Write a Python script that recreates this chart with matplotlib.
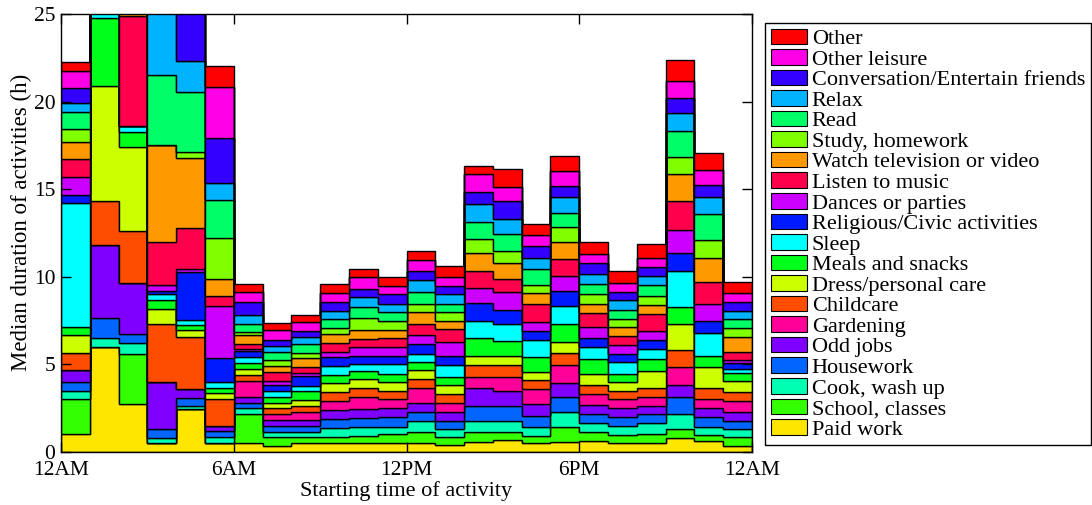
import numpy as np
import matplotlib
matplotlib.use('Agg')
import matplotlib.pyplot as plt
from matplotlib.patches import Patch

plt.rcParams['font.family'] = ['Liberation Serif', 'DejaVu Serif']

# Median duration (h) of each activity, by starting hour 0..23
paid_work = [1.03, 6.01, 2.74, 0.50, 2.45, 0.50, 0.50, 0.34, 0.50, 0.50, 0.50, 0.53,
             0.53, 0.40, 0.59, 0.68, 0.50, 0.59, 0.64, 0.50, 0.50, 0.82, 0.64, 0.34]
school = [1.98, 0.00, 2.84, 0.00, 0.00, 0.00, 1.67, 0.53, 0.34, 0.38, 0.43, 0.48,
          0.63, 0.44, 0.57, 0.47, 0.42, 0.86, 0.51, 0.47, 0.53, 0.48, 0.33, 0.50]
cook = [0.49, 0.48, 0.66, 0.32, 0.19, 0.38, 0.33, 0.29, 0.32, 0.51, 0.51, 0.43,
        0.63, 0.46, 0.63, 0.63, 0.50, 0.86, 0.51, 0.51, 0.61, 0.86, 0.47, 0.46]
housework = [0.48, 1.18, 0.50, 0.50, 0.42, 0.33, 0.32, 0.33, 0.33, 0.50, 0.51, 0.54,
             0.51, 0.49, 0.84, 0.84, 0.64, 0.82, 0.50, 0.50, 0.51, 1.00, 0.54, 0.49]
odd_jobs = [0.70, 4.15, 2.89, 2.70, 0.51, 0.30, 0.34, 0.34, 0.34, 0.51, 0.48, 0.51,
            0.51, 0.51, 1.01, 0.87, 0.68, 0.83, 0.51, 0.51, 0.49, 0.67, 0.51, 0.48]
gardening = [0.00, 0.00, 0.00, 0.00, 0.00, 0.00, 0.91, 0.34, 0.47, 0.51, 0.72, 0.51,
             0.82, 0.51, 0.66, 0.80, 0.84, 1.01, 0.63, 0.51, 0.51, 1.01, 0.51, 0.66]
childcare = [0.99, 2.53, 2.99, 3.29, 3.00, 1.51, 0.33, 0.33, 0.34, 0.50, 0.48, 0.49,
             0.51, 0.48, 0.67, 0.67, 0.53, 0.67, 0.51, 0.47, 0.51, 0.99, 0.63, 0.51]
dress = [0.99, 6.55, 4.81, 0.86, 0.38, 0.34, 0.33, 0.32, 0.33, 0.51, 0.51, 0.51,
         0.53, 0.53, 0.51, 0.51, 0.47, 0.66, 0.67, 0.50, 0.97, 1.48, 1.20, 0.63]
meals = [0.49, 3.86, 0.86, 0.51, 0.29, 0.32, 0.34, 0.34, 0.51, 0.47, 0.47, 0.48,
         0.47, 0.47, 1.01, 0.87, 0.82, 1.01, 0.82, 0.51, 0.67, 0.99, 0.64, 0.46]
sleep = [7.05, 1.00, 0.33, 0.34, 0.29, 0.31, 0.34, 0.34, 0.30, 0.51, 0.44, 0.53,
         0.48, 0.67, 1.00, 0.99, 0.99, 1.03, 0.67, 0.66, 0.57, 2.04, 1.33, 0.21]
religious = [0.47, 0.30, 0.00, 0.17, 2.72, 1.37, 0.38, 0.33, 0.57, 0.50, 0.42, 0.46,
             0.53, 0.51, 0.99, 0.80, 0.53, 0.86, 0.51, 0.48, 0.51, 1.01, 0.67, 0.33]
dances = [1.01, 0.50, 0.00, 0.34, 0.17, 2.99, 0.08, 0.25, 0.14, 0.32, 0.50, 0.50,
          0.51, 0.82, 0.86, 1.00, 0.51, 0.82, 0.66, 0.51, 0.51, 1.33, 0.95, 0.19]
music = [1.03, 1.00, 6.28, 2.47, 2.34, 0.53, 0.30, 0.51, 0.34, 0.51, 0.47, 0.51,
         0.63, 0.71, 0.99, 0.72, 1.01, 0.99, 0.82, 0.49, 1.01, 1.67, 1.29, 0.47]
television = [0.97, 1.00, 1.00, 5.52, 4.00, 0.99, 0.51, 0.33, 0.51, 0.50, 0.55, 0.51,
              0.70, 0.49, 1.01, 0.95, 0.64, 0.97, 0.51, 0.51, 0.47, 1.51, 1.34, 0.82]
study = [0.76, 0.50, 0.50, 0.00, 0.34, 2.34, 0.15, 0.34, 0.29, 0.33, 0.63, 0.49,
         0.48, 0.51, 0.82, 0.66, 0.48, 0.86, 0.53, 0.48, 0.51, 0.97, 1.04, 0.51]
read = [0.98, 1.00, 1.00, 4.00, 3.42, 2.15, 0.47, 0.47, 0.53, 0.51, 0.66, 0.51,
        0.66, 0.44, 0.99, 0.99, 0.86, 0.83, 0.61, 0.51, 0.68, 1.52, 1.47, 0.51]
relax = [0.52, 1.00, 1.00, 4.00, 1.80, 0.99, 0.51, 0.34, 0.42, 0.49, 0.54, 0.48,
         0.67, 0.55, 1.01, 0.86, 0.66, 0.86, 0.53, 0.53, 0.51, 0.99, 1.00, 0.49]
conversation = [0.82, 1.00, 1.00, 1.00, 3.00, 2.60, 0.76, 0.33, 0.33, 0.51, 0.47, 0.53,
                0.51, 0.49, 0.67, 1.00, 0.68, 0.67, 0.64, 0.51, 0.51, 0.86, 0.67, 0.51]
other_leisure = [1.00, 1.00, 1.00, 1.00, 1.00, 2.91, 0.54, 0.57, 0.50, 0.51, 0.70, 0.47,
                 0.67, 0.51, 1.03, 0.80, 0.65, 0.86, 0.54, 0.50, 0.50, 0.99, 0.86, 0.48]
other = [0.52, 0.50, 0.50, 0.50, 0.50, 1.18, 0.47, 0.38, 0.42, 0.50, 0.48, 0.51,
         0.49, 0.61, 0.49, 1.05, 0.63, 0.82, 0.66, 0.66, 0.80, 1.16, 0.99, 0.66]

# stacking order, bottom to top
layers = [paid_work, school, cook, housework, odd_jobs, gardening, childcare, dress,
          meals, sleep, religious, dances, music, television, study, read, relax,
          conversation, other_leisure, other]
labels = ['Paid work', 'School, classes', 'Cook, wash up', 'Housework', 'Odd jobs',
          'Gardening', 'Childcare', 'Dress/personal care', 'Meals and snacks', 'Sleep',
          'Religious/Civic activities', 'Dances or parties', 'Listen to music',
          'Watch television or video', 'Study, homework', 'Read', 'Relax',
          'Conversation/Entertain friends', 'Other leisure', 'Other']
colors = ['#FFE600', '#33FF00', '#00FFB3', '#0066FF', '#8000FF', '#FF0099', '#FF4D00',
          '#CCFF00', '#00FF1A', '#00FFFF', '#001AFF', '#CC00FF', '#FF004D', '#FF9900',
          '#80FF00', '#00FF66', '#00B3FF', '#3300FF', '#FF00E6', '#FF0000']

hour_edges = np.arange(25)
xtick_pos = [0, 6, 12, 18, 24]
xtick_labels = ['12AM', '6AM', '12PM', '6PM', '12AM']

fig = plt.figure(figsize=(10.92, 5.05), dpi=100)
ax = fig.add_axes([61 / 1092, 53 / 505, 691 / 1092, 438 / 505])

bottom = np.zeros(24)
for vals, col in zip(layers, colors):
    top = bottom + np.array(vals)
    ax.stairs(top, hour_edges, baseline=bottom, fill=True,
              facecolor=col, edgecolor='black', linewidth=1.0)
    bottom = top

ax.set_xlim(0, 24)
ax.set_ylim(0, 25)
ax.set_xticks(xtick_pos)
ax.set_xticklabels(xtick_labels)
ax.set_yticks([0, 5, 10, 15, 20, 25])
ax.tick_params(direction='in', top=True, right=True, length=7, width=1,
               labelsize=15.5)
ax.tick_params(axis='x', pad=6.5)
ax.tick_params(axis='y', pad=4)
for s in ax.spines.values():
    s.set_linewidth(1.0)
ax.set_xlabel('Starting time of activity', fontsize=16, labelpad=1)
ax.set_ylabel('Median duration of activities (h)', fontsize=16.5)
ax.yaxis.set_label_coords(-0.042, 0.525)

handles = [Patch(facecolor=c, edgecolor='black', linewidth=0.8) for c in colors]
leg = ax.legend(handles[::-1], labels[::-1], loc='upper left',
                bbox_to_anchor=(765 / 1092, 1 - 23 / 505), bbox_transform=fig.transFigure,
                borderaxespad=0, fontsize=16, handlelength=1.65, handleheight=0.7,
                handletextpad=0.2, labelspacing=0.0, borderpad=0.25,
                fancybox=False, framealpha=1, edgecolor='black')
leg.get_frame().set_linewidth(1.0)

fig.savefig('out.png', dpi=100)
